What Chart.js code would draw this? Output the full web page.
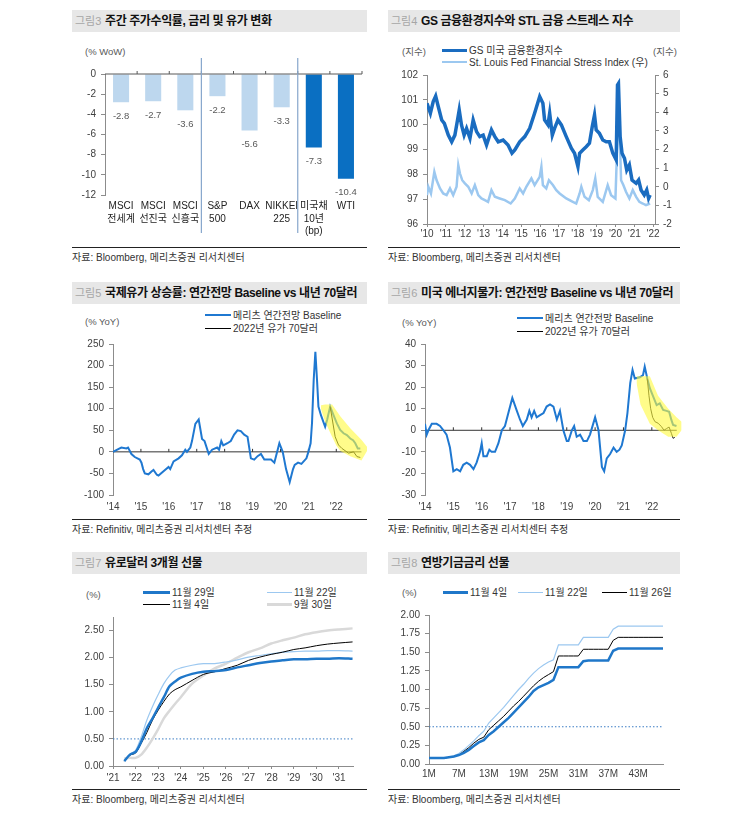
<!DOCTYPE html>
<html lang="ko">
<head>
<meta charset="utf-8">
<script src="https://cdn.jsdelivr.net/npm/chart.js@4.4.1/dist/chart.umd.min.js"></script>
<style>
  body { margin: 0; background: #fff; font-family: "Liberation Sans", "Noto Sans CJK KR", sans-serif; color: #222; }
  #page { position: relative; width: 755px; height: 827px; overflow: hidden; }
  .bar { position: absolute; height: 22px; background: #e7e7e7; line-height: 22px; white-space: nowrap; }
  .bar .no { position: absolute; left: 3px; color: #a6a6a6; font-size: 11px; }
  .bar .t { position: absolute; left: 33px; font-weight: bold; color: #111; font-size: 12px; letter-spacing: -0.4px; }
  .src { position: absolute; border-top: 1px solid #222; font-size: 10px; line-height: 12px; padding-top: 4px; color: #333; }
  .unit { position: absolute; font-size: 9.5px; line-height: 12px; color: #595959; white-space: nowrap; }
  .leg { position: absolute; font-size: 10px; line-height: 12px; color: #333; white-space: nowrap; }
  .leg i { display: inline-block; vertical-align: middle; height: 0; margin-right: 2px; margin-top: -2px; }
  canvas { position: absolute; }
</style>
</head>
<body>
<div id="page">
  <!-- 제목 -->
  <div class="bar" style="left:72px;top:10px;width:295px"><span class="no">그림3</span><span class="t">주간 주가수익률, 금리 및 유가 변화</span></div>
  <div class="bar" style="left:388px;top:10px;width:292px"><span class="no">그림4</span><span class="t">GS 금융환경지수와 STL 금융 스트레스 지수</span></div>
  <div class="bar" style="left:72px;top:282px;width:295px"><span class="no">그림5</span><span class="t">국제유가 상승률: 연간전망 Baseline vs 내년 70달러</span></div>
  <div class="bar" style="left:388px;top:282px;width:292px"><span class="no">그림6</span><span class="t">미국 에너지물가: 연간전망 Baseline vs 내년 70달러</span></div>
  <div class="bar" style="left:72px;top:552px;width:295px"><span class="no">그림7</span><span class="t">유로달러 3개월 선물</span></div>
  <div class="bar" style="left:388px;top:552px;width:292px"><span class="no">그림8</span><span class="t">연방기금금리 선물</span></div>

  <!-- 단위 -->
  <div class="unit" style="left:85px;top:46px">(% WoW)</div>
  <div class="unit" style="left:402px;top:46px">(지수)</div>
  <div class="unit" style="left:653px;top:46px">(지수)</div>
  <div class="unit" style="left:85px;top:316px">(% YoY)</div>
  <div class="unit" style="left:402px;top:317px">(% YoY)</div>
  <div class="unit" style="left:86px;top:589px">(%)</div>
  <div class="unit" style="left:402px;top:587px">(%)</div>

  <!-- 범례 -->
  <div class="leg" style="left:442px;top:45px"><i style="width:25px;border-top:3px solid #1a6cc0"></i>GS 미국 금융환경지수</div>
  <div class="leg" style="left:442px;top:57px"><i style="width:25px;border-top:2px solid #9cc8f0"></i>St. Louis Fed Financial Stress Index (우)</div>
  <div class="leg" style="left:205px;top:310px"><i style="width:26px;border-top:2px solid #1f78d1"></i>메리츠 연간전망 Baseline</div>
  <div class="leg" style="left:205px;top:323px"><i style="width:26px;border-top:1px solid #000"></i>2022년 유가 70달러</div>
  <div class="leg" style="left:517px;top:313px"><i style="width:26px;border-top:2px solid #1f78d1"></i>메리츠 연간전망 Baseline</div>
  <div class="leg" style="left:517px;top:326px"><i style="width:26px;border-top:1px solid #000"></i>2022년 유가 70달러</div>
  <div class="leg" style="left:143px;top:587px"><i style="width:27px;border-top:3px solid #1f77c9"></i>11월 29일</div>
  <div class="leg" style="left:267px;top:587px"><i style="width:25px;border-top:1px solid #9cc8f0"></i>11월 22일</div>
  <div class="leg" style="left:143px;top:599px"><i style="width:27px;border-top:1px solid #000"></i>11월 4일</div>
  <div class="leg" style="left:267px;top:599px"><i style="width:25px;border-top:3px solid #d9d9d9"></i>9월 30일</div>
  <div class="leg" style="left:443px;top:587px"><i style="width:25px;border-top:3px solid #1f77c9"></i>11월 4일</div>
  <div class="leg" style="left:518px;top:587px"><i style="width:25px;border-top:1px solid #9cc8f0"></i>11월 22일</div>
  <div class="leg" style="left:602px;top:587px"><i style="width:25px;border-top:1px solid #000"></i>11월 26일</div>

  <!-- 차트 -->
  <canvas id="c1" width="296" height="200" style="left:72px;top:40px"></canvas>
  <canvas id="c2" width="292" height="200" style="left:388px;top:40px"></canvas>
  <canvas id="c3" width="300" height="205" style="left:72px;top:310px"></canvas>
  <canvas id="c4" width="300" height="205" style="left:388px;top:310px"></canvas>
  <canvas id="c5" width="290" height="206" style="left:72px;top:580px"></canvas>
  <canvas id="c6" width="292" height="206" style="left:388px;top:580px"></canvas>

  <!-- 자료 -->
  <div class="src" style="left:72px;top:247px;width:295px">자료: Bloomberg, 메리츠증권 리서치센터</div>
  <div class="src" style="left:388px;top:247px;width:292px">자료: Bloomberg, 메리츠증권 리서치센터</div>
  <div class="src" style="left:72px;top:519px;width:295px">자료: Refinitiv, 메리츠증권 리서치센터 추정</div>
  <div class="src" style="left:388px;top:519px;width:292px">자료: Refinitiv, 메리츠증권 리서치센터 추정</div>
  <div class="src" style="left:72px;top:789px;width:295px">자료: Bloomberg, 메리츠증권 리서치센터</div>
  <div class="src" style="left:388px;top:789px;width:292px">자료: Bloomberg, 메리츠증권 리서치센터</div>
</div>

<script>
// ---- 데이터 ----
// 그림3: 주간 변화
const weeklyLabels = [['MSCI', '전세계'], ['MSCI', '선진국'], ['MSCI', '신흥국'], ['S&P', '500'], ['DAX'], ['NIKKEI', '225'], ['미국채', '10년', '(bp)'], ['WTI']];
const weeklyValues = [-2.8, -2.7, -3.6, -2.2, -5.6, -3.3, -7.3, -10.4];
const groupBreaks = [3, 6];

// 그림4: GS 금융환경지수 / STL 금융스트레스지수
const gsDates = [2010.00, 2010.18, 2010.33, 2010.46, 2010.60, 2010.78, 2010.92, 2011.13, 2011.31, 2011.48, 2011.62, 2011.71, 2011.83, 2011.97,
  2012.10, 2012.28, 2012.45, 2012.63, 2012.80, 2012.98, 2013.16, 2013.42, 2013.60, 2013.78, 2014.04, 2014.30, 2014.51, 2014.66, 2014.92,
  2015.19, 2015.45, 2015.71, 2015.98, 2016.15, 2016.24, 2016.42, 2016.51, 2016.65, 2016.77, 2016.95, 2017.13, 2017.39, 2017.66, 2017.83, 2017.92,
  2018.01, 2018.10, 2018.27, 2018.45, 2018.62, 2018.77, 2018.89, 2018.98, 2019.15, 2019.33, 2019.51, 2019.68, 2019.86,
  2020.04, 2020.11, 2020.16, 2020.25, 2020.35, 2020.48, 2020.60, 2020.74, 2020.88, 2021.10, 2021.23, 2021.36, 2021.53, 2021.66, 2021.76, 2021.84];
const gsIndex = [100.86, 100.46, 100.93, 101.15, 100.72, 100.19, 100.05, 99.58, 99.31, 99.58, 100.19, 100.59, 99.99, 99.58,
  99.85, 99.45, 100.19, 99.72, 99.52, 99.58, 99.18, 99.79, 99.52, 99.31, 99.38, 99.18, 98.85, 98.98, 99.31,
  99.52, 99.85, 100.46, 101.13, 100.86, 100.19, 99.99, 100.46, 99.58, 99.85, 100.19, 99.99, 99.52, 99.05, 98.85, 98.58,
  98.31, 98.85, 98.98, 99.11, 99.25, 99.92, 100.39, 99.79, 99.65, 99.38, 99.31, 99.31, 98.85,
  98.58, 101.60, 101.66, 99.52, 98.85, 98.65, 98.17, 98.38, 97.77, 97.64, 97.77, 97.37, 97.17, 97.37, 97.03, 97.17];
const stlDates = [2010.00, 2010.07, 2010.21, 2010.39, 2010.51, 2010.69, 2010.86, 2011.04, 2011.22, 2011.39, 2011.57, 2011.66, 2011.75, 2011.87,
  2012.01, 2012.19, 2012.37, 2012.54, 2012.72, 2012.89, 2013.07, 2013.24, 2013.42, 2013.60, 2013.86, 2014.13, 2014.44, 2014.66, 2014.92,
  2015.10, 2015.27, 2015.54, 2015.71, 2015.98, 2016.07, 2016.15, 2016.33, 2016.47, 2016.68, 2016.86, 2017.04, 2017.39, 2017.74, 2017.92,
  2018.10, 2018.19, 2018.36, 2018.59, 2018.80, 2018.93, 2019.06, 2019.33, 2019.59, 2019.77,
  2020.00, 2020.11, 2020.16, 2020.21, 2020.30, 2020.42, 2020.56, 2020.74, 2020.92, 2021.10, 2021.27, 2021.45, 2021.62, 2021.84];
const stlIndex = [-0.45, 0.0, -0.36, 0.8, 0.35, -0.09, -0.36, -0.45, -0.09, -0.45, 0.0, 1.16, 0.71, 0.35,
  0.18, 0.0, -0.36, 0.09, -0.45, -0.63, -0.72, -0.81, -0.18, -0.54, -0.63, -0.72, -0.9, -0.63, -0.09,
  -0.36, 0.0, 0.45, 0.09, 0.53, 1.07, 0.09, -0.09, 0.35, 0.09, -0.18, -0.36, -0.63, -0.81, -0.9,
  -0.36, 0.0, -0.54, -0.72, -0.18, 0.45, -0.54, -0.81, 0.09, -0.45,
  -0.63, 2.68, 5.37, 3.4, 0.35, 0.09, -0.27, -0.63, -0.18, -0.54, -0.81, -0.9, -0.99, -0.9];

// 그림5: 국제유가 상승률 (% YoY)
const oilDates = [2014.00, 2014.24, 2014.30, 2014.48, 2014.54, 2014.66, 2014.78, 2014.96,
  2015.02, 2015.08, 2015.14, 2015.27, 2015.39, 2015.45, 2015.57, 2015.63, 2015.81, 2015.99,
  2016.05, 2016.17, 2016.35, 2016.47, 2016.59, 2016.65, 2016.71, 2016.77, 2016.83, 2016.95,
  2017.07, 2017.19, 2017.28, 2017.43, 2017.55, 2017.73, 2017.80, 2017.88, 2017.95,
  2018.10, 2018.22, 2018.34, 2018.46, 2018.58, 2018.70, 2018.82, 2018.94,
  2019.06, 2019.18, 2019.30, 2019.42, 2019.66, 2019.78, 2019.84, 2019.96,
  2020.08, 2020.20, 2020.33, 2020.45, 2020.51, 2020.63, 2020.75, 2020.93,
  2021.00, 2021.08, 2021.13, 2021.19, 2021.25, 2021.31, 2021.36, 2021.45, 2021.60, 2021.67, 2021.78, 2021.90,
  2022.02, 2022.14, 2022.26, 2022.38, 2022.50, 2022.60, 2022.68, 2022.77, 2022.86];
const oilBase = [0, 8, 10, 8, 10, -5, -12, -18,
  -25, -40, -50, -52, -45, -42, -53, -55, -45, -35,
  -40, -22, -15, -8, 5, 0, 5, 10, 25, 65,
  75, 30, 25, -5, 5, 10, 5, 25, 15,
  20, 25, 40, 50, 48, 40, 35, -15,
  -18, -10, -5, -18, -18, -25, -10, 20,
  0, -40, -70, -40, -30, -25, -28, -15,
  0, 20, 67, 166, 232, 166, 105, 85, 58, 74, 105, 85,
  66, 51, 43, 39, 31, 27, 20, 8, 8];
const oilAltDates = [2021.78, 2021.96, 2022.08, 2022.20, 2022.44, 2022.62, 2022.74, 2022.86];
const oilAlt = [105, 35, 16, 8, -3, 0, -11, -13];
const oilBandDates = [2021.45, 2021.60, 2021.85, 2022.00, 2022.15, 2022.50, 2022.90, 2023.10];
const oilBandHigh = [108, 110, 110, 96, 82, 55, 28, 12];
const oilBandLow = [100, 70, 35, 15, 2, -10, -20, 2];

// 그림6: 미국 에너지물가 (% YoY)
const engDates = [2014.00, 2014.06, 2014.12, 2014.24, 2014.41, 2014.53, 2014.65, 2014.76, 2014.88,
  2015.00, 2015.12, 2015.24, 2015.35, 2015.47, 2015.59, 2015.71, 2015.82, 2015.94,
  2016.00, 2016.06, 2016.18, 2016.27, 2016.35, 2016.47, 2016.59, 2016.71, 2016.82, 2016.94,
  2017.08, 2017.24, 2017.35, 2017.45, 2017.59, 2017.68, 2017.76, 2017.85, 2017.94,
  2018.06, 2018.18, 2018.29, 2018.41, 2018.53, 2018.65, 2018.76, 2018.88,
  2019.00, 2019.06, 2019.18, 2019.26, 2019.35, 2019.47, 2019.59, 2019.71, 2019.82,
  2020.00, 2020.12, 2020.24, 2020.32, 2020.41, 2020.53, 2020.65, 2020.76, 2020.86, 2020.94,
  2021.06, 2021.14, 2021.24, 2021.32, 2021.40, 2021.58, 2021.69, 2021.75, 2021.84, 2021.93,
  2022.05, 2022.17, 2022.28, 2022.40, 2022.52, 2022.61, 2022.69, 2022.75, 2022.87];
const engBase = [3, -2, 0, 3, 3, 2, 0, -2, -8,
  -19, -18, -19, -16, -15, -16, -18, -15, -10,
  -6, -12, -12, -9, -10, -10, -6, 0, 2, 8,
  15, 9, 5, 2, 5, 9, 6, 9, 6,
  7, 8, 11, 12, 11, 5, 9, 0,
  -5, -5, 0, 2, -3, -2, -5, -5, -2,
  6, 0, -17, -19, -13, -11, -8, -10, -9, -7,
  0, 8, 22, 28, 24, 24.6, 25.6, 29.5, 24, 19.5,
  15.6, 11.7, 12.5, 9.4, 9, 8.6, 4.8, 2.5, 2];
const engAltDates = [2021.84, 2021.90, 2021.96, 2022.03, 2022.11, 2022.22, 2022.34, 2022.43, 2022.52, 2022.61, 2022.69, 2022.75, 2022.81];
const engAlt = [24, 16, 10, 6, 4, 3.3, 1.7, 0, 0.8, 1.5, -1.4, -3.7, -3.3];
const engBandDates = [2021.46, 2021.60, 2021.93, 2022.22, 2022.58, 2022.87, 2023.05];
const engBandHigh = [25, 25, 25, 16, 10, 6, 4];
const engBandLow = [22, 12, 3, 0, -3, -3, 0];

// 그림7: 유로달러 3개월 선물 (%)
const edDates = [2021.5, 2021.75, 2022.0, 2022.25, 2022.5, 2022.75, 2023.0, 2023.25, 2023.5, 2023.75, 2024.0, 2024.5, 2025.0,
  2025.5, 2026.0, 2026.5, 2027.0, 2027.5, 2028.0, 2028.5, 2029.0, 2029.5, 2030.0, 2030.5, 2031.0, 2031.6];
const edNov29 = [0.09, 0.21, 0.26, 0.45, 0.70, 0.88, 1.08, 1.27, 1.47, 1.56, 1.63, 1.70, 1.74, 1.75, 1.77, 1.82, 1.86, 1.90, 1.93, 1.95, 1.97, 1.97, 1.98, 1.98, 1.99, 1.98];
const edNov22 = [0.09, 0.22, 0.29, 0.54, 0.85, 1.10, 1.32, 1.52, 1.67, 1.77, 1.81, 1.86, 1.89, 1.89, 1.92, 1.96, 2.01, 2.04, 2.07, 2.10, 2.11, 2.12, 2.12, 2.13, 2.13, 2.12];
const edNov4 = [0.09, 0.20, 0.24, 0.42, 0.62, 0.85, 1.03, 1.19, 1.33, 1.41, 1.46, 1.58, 1.69, 1.74, 1.80, 1.86, 1.95, 2.01, 2.06, 2.10, 2.15, 2.18, 2.22, 2.25, 2.27, 2.29];
const edSep30 = [0.14, 0.15, 0.15, 0.21, 0.34, 0.50, 0.68, 0.88, 1.02, 1.15, 1.27, 1.52, 1.67, 1.80, 1.89, 2.00, 2.10, 2.17, 2.26, 2.32, 2.37, 2.43, 2.47, 2.50, 2.52, 2.54];

// 그림8: 연방기금금리 선물 (%)
const fedMonths = Array.from({ length: 48 }, (_, i) => (i + 1) + 'M');
const fedNov4 = [0.08, 0.08, 0.08, 0.08, 0.09, 0.10, 0.12, 0.15, 0.19, 0.24,
  0.29, 0.32, 0.39, 0.44, 0.50, 0.56, 0.62, 0.69, 0.76, 0.83,
  0.90, 0.98, 1.03, 1.06, 1.09, 1.13, 1.30, 1.30, 1.30, 1.30,
  1.30, 1.38, 1.39, 1.39, 1.39, 1.39, 1.39, 1.52, 1.55, 1.55,
  1.55, 1.55, 1.55, 1.55, 1.55, 1.55, 1.55, 1.55];
const fedNov22 = [0.08, 0.08, 0.08, 0.08, 0.09, 0.11, 0.14, 0.19, 0.25, 0.31,
  0.38, 0.44, 0.55, 0.62, 0.69, 0.76, 0.84, 0.92, 1.00, 1.07,
  1.15, 1.22, 1.28, 1.33, 1.37, 1.40, 1.60, 1.60, 1.60, 1.60,
  1.60, 1.70, 1.70, 1.70, 1.70, 1.70, 1.70, 1.81, 1.85, 1.85,
  1.85, 1.85, 1.85, 1.85, 1.85, 1.85, 1.85, 1.85];
const fedNov26 = [0.08, 0.08, 0.08, 0.08, 0.09, 0.10, 0.12, 0.17, 0.22, 0.28,
  0.33, 0.36, 0.46, 0.52, 0.58, 0.64, 0.71, 0.78, 0.84, 0.91,
  0.98, 1.05, 1.11, 1.16, 1.20, 1.24, 1.45, 1.45, 1.45, 1.45,
  1.45, 1.54, 1.54, 1.54, 1.54, 1.54, 1.54, 1.66, 1.70, 1.70,
  1.70, 1.70, 1.70, 1.70, 1.70, 1.70, 1.70, 1.70];
const refRate = 0.5;

// ---- 공통 설정 ----
const FONT = '"Liberation Sans", "Noto Sans CJK KR", sans-serif';
const AXIS = '#8c8c8c';
Chart.defaults.font.family = FONT;
Chart.defaults.font.size = 10;
Chart.defaults.color = '#404040';
Chart.defaults.animation = false;
Chart.defaults.plugins.legend.display = false;
Chart.defaults.plugins.tooltip.enabled = false;

const pts = (xs, ys) => xs.map((x, i) => ({ x: x, y: ys[i] }));
const yearLabel = v => "'" + String(v).slice(2);

function valueAxis(min, max, step, width, more) {
  return Object.assign({
    min: min, max: max,
    ticks: { stepSize: step, padding: 5 },
    grid: { drawOnChartArea: false, tickLength: 4, color: AXIS },
    border: { color: AXIS },
    afterFit: s => { s.width = width; }
  }, more || {});
}
// 연도 눈금: min ~ lastTick 의 정수 연도만
function yearAxis(min, max, lastTick, height, more) {
  return Object.assign({
    type: 'linear', min: min, max: max,
    afterBuildTicks: s => {
      const t = [];
      for (let v = Math.ceil(min); v <= lastTick; v++) t.push({ value: v });
      s.ticks = t;
    },
    ticks: { stepSize: 1, callback: yearLabel, maxRotation: 0, padding: 4 },
    grid: { display: false, drawTicks: false },
    border: { display: false },
    afterFit: s => { s.height = height; }
  }, more || {});
}
function line(data, color, width, axis) {
  return { data: data, borderColor: color, borderWidth: width, pointRadius: 0, fill: false, yAxisID: axis || 'y', order: 1 };
}
function band(data, fill) {
  return { data: data, borderWidth: 0, pointRadius: 0, backgroundColor: 'rgba(255, 250, 60, 0.6)', fill: fill, order: 0, clip: false };
}

// 0 기준선 (위쪽 눈금 포함)
function zeroLine(endValue) {
  return {
    id: 'zeroLine',
    beforeDatasetsDraw(chart) {
      const { ctx, chartArea, scales: { x, y } } = chart;
      const y0 = y.getPixelForValue(0);
      const xEnd = x.getPixelForValue(endValue);
      ctx.save();
      ctx.strokeStyle = '#333';
      ctx.lineWidth = 1;
      ctx.beginPath();
      ctx.moveTo(chartArea.left, y0);
      ctx.lineTo(xEnd, y0);
      x.ticks.forEach(t => {
        const px = x.getPixelForValue(t.value);
        if (px > chartArea.left + 1) { ctx.moveTo(px, y0); ctx.lineTo(px, y0 - 3); }
      });
      ctx.stroke();
      ctx.restore();
    }
  };
}
// 0.5% 점선
const refLine = {
  id: 'refLine',
  beforeDatasetsDraw(chart) {
    const { ctx, chartArea, scales: { y } } = chart;
    const py = y.getPixelForValue(refRate);
    ctx.save();
    ctx.strokeStyle = '#3b7dc4';
    ctx.lineWidth = 1;
    ctx.setLineDash([1.5, 2]);
    ctx.beginPath();
    ctx.moveTo(chartArea.left, py);
    ctx.lineTo(chartArea.right, py);
    ctx.stroke();
    ctx.restore();
  }
};

// ---- 그림3 ----
const weeklyExtras = {
  id: 'weeklyExtras',
  afterDatasetsDraw(chart) {
    const { ctx, chartArea, scales: { x, y } } = chart;
    ctx.save();
    ctx.font = '9.5px ' + FONT;
    ctx.fillStyle = '#595959';
    ctx.textAlign = 'center';
    ctx.textBaseline = 'middle';
    chart.getDatasetMeta(0).data.forEach((bar, i) => {
      ctx.fillText(weeklyValues[i].toFixed(1), bar.x, bar.y + 14);
    });
    const y0 = y.getPixelForValue(0);
    const w = (chartArea.right - chartArea.left) / weeklyLabels.length;
    ctx.strokeStyle = '#595959';
    ctx.lineWidth = 1;
    ctx.beginPath();
    ctx.moveTo(chartArea.left, y0);
    ctx.lineTo(chartArea.right, y0);
    for (let i = 1; i <= weeklyLabels.length; i++) {
      ctx.moveTo(chartArea.left + i * w, y0);
      ctx.lineTo(chartArea.left + i * w, y0 - 3);
    }
    ctx.stroke();
    ctx.strokeStyle = '#86a6cc';
    ctx.lineWidth = 1.2;
    groupBreaks.forEach(b => {
      const px = (x.getPixelForValue(b - 1) + x.getPixelForValue(b)) / 2;
      ctx.beginPath();
      ctx.moveTo(px, chartArea.top - 16);
      ctx.lineTo(px, chartArea.bottom + 38);
      ctx.stroke();
    });
    ctx.restore();
  }
};
new Chart(document.getElementById('c1'), {
  type: 'bar',
  data: {
    labels: weeklyLabels,
    datasets: [{
      data: weeklyValues,
      backgroundColor: weeklyValues.map((v, i) => i >= groupBreaks[1] ? '#0a6fc2' : '#bdd7ee'),
      barPercentage: 0.5,
      categoryPercentage: 1
    }]
  },
  options: {
    responsive: false,
    layout: { padding: { top: 34, right: 6, left: 0, bottom: 0 } },
    scales: {
      x: {
        grid: { display: false, drawTicks: false },
        border: { display: false },
        ticks: { padding: 5, color: '#222', autoSkip: false, maxRotation: 0, font: { size: 10, lineHeight: 1.25 } },
        afterFit: s => { s.height = 45; }
      },
      y: valueAxis(-12, 0, 2, 33, { ticks: { stepSize: 2, padding: 5, font: { size: 10 } } })
    }
  },
  plugins: [weeklyExtras]
});

// ---- 그림4 ----
new Chart(document.getElementById('c2'), {
  type: 'line',
  data: {
    datasets: [
      line(pts(gsDates, gsIndex), '#1a6cc0', 3.5, 'y'),
      line(pts(stlDates, stlIndex), '#9cc8f0', 2.5, 'y2')
    ]
  },
  options: {
    responsive: false,
    layout: { padding: { top: 35, right: 0, left: 0, bottom: 0 } },
    scales: {
      x: yearAxis(2010, 2022.1, 2022, 16, {
        grid: { drawOnChartArea: false, tickLength: 3, color: AXIS },
        border: { color: AXIS },
        ticks: { stepSize: 1, callback: yearLabel, maxRotation: 0, padding: 1 }
      }),
      y: valueAxis(96, 102, 1, 39),
      y2: valueAxis(-2, 6, 1, 25, { position: 'right', ticks: { stepSize: 1, padding: 4 } })
    }
  }
});

// ---- 그림5 ----
new Chart(document.getElementById('c3'), {
  type: 'line',
  data: {
    datasets: [
      band(pts(oilBandDates, oilBandHigh), '+1'),
      band(pts(oilBandDates, oilBandLow), false),
      line(pts(oilAltDates, oilAlt), '#000', 1),
      line(pts(oilDates, oilBase), '#1f78d1', 2)
    ]
  },
  options: {
    responsive: false,
    layout: { padding: { top: 34, right: 5, left: 0, bottom: 0 } },
    scales: {
      x: yearAxis(2014, 2023.1, 2022, 20, { ticks: { stepSize: 1, callback: yearLabel, maxRotation: 0, padding: 6 } }),
      y: valueAxis(-100, 250, 50, 41)
    }
  },
  plugins: [zeroLine(2022.9)]
});

// ---- 그림6 ----
new Chart(document.getElementById('c4'), {
  type: 'line',
  data: {
    datasets: [
      band(pts(engBandDates, engBandHigh), '+1'),
      band(pts(engBandDates, engBandLow), false),
      line(pts(engAltDates, engAlt), '#222', 1),
      line(pts(engDates, engBase), '#1f78d1', 2)
    ]
  },
  options: {
    responsive: false,
    layout: { padding: { top: 34, right: 5, left: 0, bottom: 0 } },
    scales: {
      x: yearAxis(2014, 2023.1, 2022, 20, { ticks: { stepSize: 1, callback: yearLabel, maxRotation: 0, padding: 6 } }),
      y: valueAxis(-30, 40, 10, 37)
    }
  },
  plugins: [zeroLine(2022.88)]
});

// ---- 그림7 ----
new Chart(document.getElementById('c5'), {
  type: 'line',
  data: {
    datasets: [
      line(pts(edDates, edNov29), '#1f77c9', 2.5),
      line(pts(edDates, edNov4), '#000', 1),
      line(pts(edDates, edNov22), '#9cc8f0', 1.2),
      line(pts(edDates, edSep30), '#d9d9d9', 2.5)
    ].map(d => Object.assign(d, { tension: 0.3 }))
  },
  options: {
    responsive: false,
    layout: { padding: { top: 37, right: 9, left: 0, bottom: 0 } },
    scales: {
      x: yearAxis(2021, 2031.62, 2031, 20, {
        grid: { drawOnChartArea: false, tickLength: 3, color: AXIS },
        border: { color: AXIS },
        ticks: { stepSize: 1, callback: yearLabel, maxRotation: 0, padding: 3 }
      }),
      y: valueAxis(0, 2.75, 0.25, 41, { ticks: { stepSize: 0.25, padding: 5, callback: v => v.toFixed(2) } })
    }
  },
  plugins: [refLine]
});

// ---- 그림8 ----
new Chart(document.getElementById('c6'), {
  type: 'line',
  data: {
    labels: fedMonths,
    datasets: [
      line(fedNov4, '#1f77c9', 2.5),
      line(fedNov26, '#000', 1),
      line(fedNov22, '#9cc8f0', 1.2)
    ]
  },
  options: {
    responsive: false,
    layout: { padding: { top: 35, right: 17, left: 0, bottom: 0 } },
    scales: {
      x: {
        offset: false,
        grid: { display: false, drawTicks: false },
        border: { color: AXIS },
        ticks: {
          autoSkip: false, maxRotation: 0, padding: 4,
          callback: function (v, i) { return i % 6 === 0 ? this.getLabelForValue(v) : ''; }
        },
        afterFit: s => { s.height = 22; }
      },
      y: valueAxis(0, 2, 0.25, 41, { ticks: { stepSize: 0.25, padding: 5, callback: v => v.toFixed(2) } })
    }
  },
  plugins: [refLine]
});
</script>
</body>
</html>
